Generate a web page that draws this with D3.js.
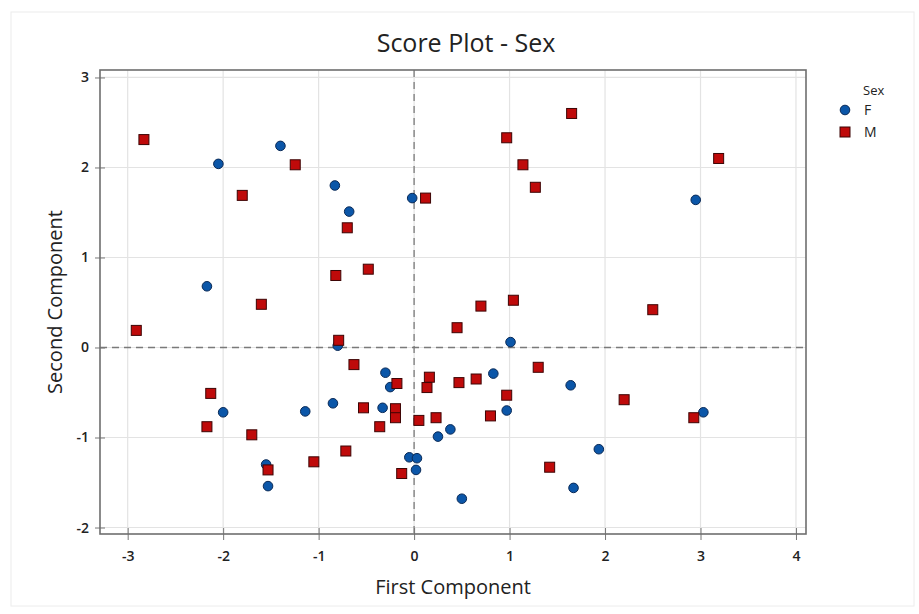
<!DOCTYPE html>
<html>
<head>
<meta charset="utf-8">
<script src="https://cdn.jsdelivr.net/npm/d3@7"></script>
<style>
  body { margin: 0; background: #fff; }
  svg text { font-family: "Open Sans", "Noto Sans", sans-serif; fill: #222; }
  .grid line { stroke: #e3e3e3; stroke-width: 1.2; }
  .ref { stroke: #7a7a7a; stroke-width: 1.3; stroke-dasharray: 7,5; }
  .axis path { display: none; }
  .axis line { stroke: #777; }
  .axis text { font-size: 14px; fill: #222; font-weight: 600; }
</style>
</head>
<body>
<svg id="chart" width="919" height="614"></svg>
<script>
// score plot values
const xTicks = [-3, -2, -1, 0, 1, 2, 3, 4];
const yTicks = [-2, -1, 0, 1, 2, 3];
const groups = ['F', 'M'];

const femaleScores = [
  [-2.05, 2.04], [-1.40, 2.24], [-0.83, 1.80], [-0.68, 1.51], [-0.02, 1.66],
  [-2.17, 0.68], [2.95, 1.64], [-0.80, 0.02], [-0.30, -0.28], [-0.25, -0.44],
  [-2.00, -0.72], [-1.14, -0.71], [-0.85, -0.62], [-0.33, -0.67], [0.25, -0.99],
  [0.38, -0.91], [-1.55, -1.30], [-1.53, -1.54], [-0.05, -1.22], [0.03, -1.23],
  [0.02, -1.36], [0.50, -1.68], [1.01, 0.06], [0.83, -0.29], [1.64, -0.42],
  [0.97, -0.70], [3.03, -0.72], [1.935, -1.13], [1.67, -1.56]
];

const maleScores = [
  [-2.83, 2.31], [-1.245, 2.03], [-1.80, 1.69], [-0.70, 1.33], [0.12, 1.66],
  [-0.82, 0.80], [-0.48, 0.87], [-1.60, 0.48], [1.65, 2.60], [0.97, 2.33],
  [1.14, 2.03], [1.27, 1.78], [3.19, 2.10], [0.70, 0.46], [1.04, 0.525],
  [2.50, 0.42], [0.45, 0.22], [-2.91, 0.19], [-0.79, 0.08], [-0.63, -0.19],
  [-0.18, -0.40], [0.16, -0.33], [0.135, -0.445], [0.47, -0.39], [0.65, -0.35],
  [1.30, -0.22], [0.97, -0.53], [0.80, -0.76], [2.20, -0.58], [2.93, -0.78],
  [1.42, -1.33], [-2.13, -0.51], [-2.17, -0.88], [-1.70, -0.97], [-0.53, -0.67],
  [-0.195, -0.68], [-0.195, -0.78], [-0.36, -0.88], [0.05, -0.81], [0.23, -0.78],
  [-0.715, -1.15], [-1.05, -1.27], [-1.53, -1.36], [-0.13, -1.40]
];

const svg = d3.select('#chart');
const plot = { left: 100, right: 806, top: 70, bottom: 534 };

const x = d3.scaleLinear().domain([-3.29, 4.105]).range([plot.left, plot.right]);
const y = d3.scaleLinear().domain([-2.072, 3.083]).range([plot.bottom, plot.top]);

// faint outer border of the figure
svg.append('rect')
  .attr('x', 11).attr('y', 12).attr('width', 903).attr('height', 594)
  .attr('fill', 'none').attr('stroke', '#ececec');

// gridlines
const grid = svg.append('g').attr('class', 'grid');
grid.selectAll('line.gx')
  .data(xTicks)
  .join('line')
  .attr('class', 'gx')
  .attr('x1', d => x(d)).attr('x2', d => x(d))
  .attr('y1', plot.top).attr('y2', plot.bottom);
grid.selectAll('line.gy')
  .data(yTicks)
  .join('line')
  .attr('class', 'gy')
  .attr('y1', d => y(d)).attr('y2', d => y(d))
  .attr('x1', plot.left).attr('x2', plot.right);

// reference lines at zero
svg.append('line').attr('class', 'ref')
  .attr('x1', x(0)).attr('x2', x(0))
  .attr('y1', plot.top).attr('y2', plot.bottom);
svg.append('line').attr('class', 'ref')
  .attr('y1', y(0)).attr('y2', y(0))
  .attr('x1', plot.left).attr('x2', plot.right);

// axes (ticks cross the frame like in minitab); plain hyphen for negatives
const fmt = d => String(d);

svg.append('g')
  .attr('class', 'axis')
  .attr('transform', `translate(0,${plot.bottom})`)
  .call(d3.axisBottom(x).tickValues(xTicks).tickSizeInner(6).tickPadding(11).tickFormat(fmt))
  .selectAll('.tick line').attr('y1', -6);

svg.append('g')
  .attr('class', 'axis')
  .attr('transform', `translate(${plot.left},0)`)
  .call(d3.axisLeft(y).tickValues(yTicks).tickSizeInner(5).tickPadding(6).tickFormat(fmt))
  .selectAll('.tick line').attr('x1', 5);

// plot frame
svg.append('rect')
  .attr('x', plot.left).attr('y', plot.top)
  .attr('width', plot.right - plot.left).attr('height', plot.bottom - plot.top)
  .attr('fill', 'none').attr('stroke', '#6e6e6e').attr('stroke-width', 1.6);

// markers
const marks = svg.append('g');
marks.selectAll('circle')
  .data(femaleScores)
  .join('circle')
  .attr('cx', d => x(d[0]))
  .attr('cy', d => y(d[1]))
  .attr('r', 4.8)
  .attr('fill', '#0b56a8')
  .attr('stroke', '#0a2a57')
  .attr('stroke-width', 1);

marks.selectAll('rect')
  .data(maleScores)
  .join('rect')
  .attr('x', d => x(d[0]) - 5)
  .attr('y', d => y(d[1]) - 5)
  .attr('width', 10)
  .attr('height', 10)
  .attr('fill', '#bf0a0a')
  .attr('stroke', '#3d0505')
  .attr('stroke-width', 1);

// titles
svg.append('text')
  .attr('x', 466).attr('y', 52)
  .attr('text-anchor', 'middle')
  .style('font-size', '25px')
  .style('font-weight', 500)
  .text('Score Plot - Sex');

svg.append('text')
  .attr('x', (plot.left + plot.right) / 2).attr('y', 594)
  .attr('text-anchor', 'middle')
  .style('font-size', '20px')
  .style('font-weight', 500)
  .text('First Component');

svg.append('text')
  .attr('transform', `translate(62,${(plot.top + plot.bottom) / 2}) rotate(-90)`)
  .attr('text-anchor', 'middle')
  .style('font-size', '20px')
  .style('font-weight', 500)
  .text('Second Component');

// legend
const legend = svg.append('g').attr('transform', 'translate(845,0)');
legend.append('text')
  .attr('x', 18).attr('y', 95)
  .style('font-size', '13px')
  .text('Sex');

const items = legend.selectAll('g.item')
  .data(groups)
  .join('g')
  .attr('class', 'item')
  .attr('transform', (d, i) => `translate(0,${110 + i * 22})`);

items.filter(d => d === 'F')
  .append('circle')
  .attr('r', 4.8)
  .attr('fill', '#0b56a8')
  .attr('stroke', '#0a2a57');

items.filter(d => d === 'M')
  .append('rect')
  .attr('x', -5).attr('y', -5)
  .attr('width', 10).attr('height', 10)
  .attr('fill', '#bf0a0a')
  .attr('stroke', '#3d0505');

items.append('text')
  .attr('x', 19).attr('y', 5)
  .style('font-size', '14px')
  .text(d => d);
</script>
</body>
</html>
